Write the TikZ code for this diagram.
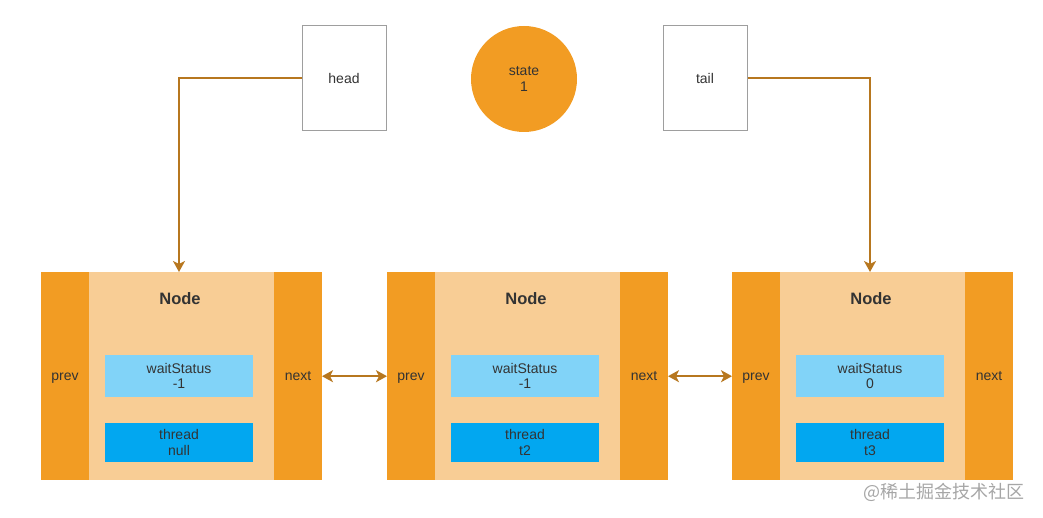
\documentclass[tikz,border=0pt]{standalone}
\usepackage{fontspec}
\setmainfont{Liberation Sans}
\newfontfamily\cjk{Noto Sans CJK SC}
\usetikzlibrary{arrows.meta}
\definecolor{org}{HTML}{F29C23}
\definecolor{lorg}{HTML}{F8CD95}
\definecolor{lblue}{HTML}{81D3F8}
\definecolor{dblue}{HTML}{02A7F0}
\definecolor{arr}{HTML}{B7771F}
\definecolor{txt}{HTML}{333333}
\tikzset{
  body/.style={fill=lorg, draw=none, minimum width=281pt, minimum height=208pt, inner sep=0pt},
  col/.style={fill=org, draw=none, minimum width=47.5pt, minimum height=208pt, inner sep=0pt, text=txt, text height=10pt, text depth=2pt, font=\fontsize{14}{16}\selectfont},
  title/.style={text=txt, font=\bfseries\fontsize{16.5}{18}\selectfont},
  wsbox/.style={fill=lblue, draw=none, minimum width=148pt, minimum height=42pt, inner sep=0pt, align=center, text=txt, font=\fontsize{14}{15.5}\selectfont},
  thbox/.style={fill=dblue, draw=none, minimum width=148pt, minimum height=39pt, inner sep=0pt, align=center, text=txt, font=\fontsize{14}{15.5}\selectfont},
  ptr/.style={draw=black!38, fill=white, line width=1pt, minimum width=84pt, minimum height=105pt, inner sep=0pt, text=txt, font=\fontsize{14}{16}\selectfont},
  st/.style={circle, fill=org, draw=none, minimum size=106pt, inner sep=0pt, align=center, text=txt, font=\fontsize{14}{16}\selectfont},
  tip/.style={},
  conn/.style={draw=arr, line width=2pt, arrows={-Stealth[length=11pt,width=12pt,inset=3pt]}},
  dconn/.style={draw=arr, line width=2pt, arrows={Stealth[length=11pt,width=12pt,inset=3pt]-Stealth[length=11pt,width=12pt,inset=3pt]}},
  wm/.style={text=black!35, font=\cjk\fontsize{18}{20}\selectfont}
}
\begin{document}
\begin{tikzpicture}[x=1pt,y=-1pt]
\useasboundingbox (0,0) rectangle (1043,518);
\foreach \i/\x/\ws/\th in {1/41/-1/null, 2/387/-1/t2, 3/732/0/t3}{
  \node[body, anchor=north west] (b\i) at (\x,272) {};
  \node[col, anchor=north west] (p\i) at (\x,272) {prev};
  \node[col, anchor=north east] (n\i) at (\x+281,272) {next};
  \node[title] (t\i) at (\x+139,299) {Node};
  \node[wsbox] (w\i) at (\x+138,376) {waitStatus\\\ws};
  \node[thbox] (h\i) at (\x+138,442.5) {thread\\\th};
}
\node[ptr] (head) at (344,78.5) {head};
\node[st] (state) at (524,79) {state\\1};
\node[ptr] (tail) at (705,78.5) {tail};
\draw[conn] (head.west) -| (w1.north |- b1.north);
\draw[conn] (tail.east) -| (w3.north |- b3.north);
\draw[dconn] (n1.east) -- (p2.west);
\draw[dconn] (n2.east) -- (p3.west);
\node[wm, anchor=east] (wmark) at (1028,492) {@稀土掘金技术社区};
\end{tikzpicture}
\end{document}
